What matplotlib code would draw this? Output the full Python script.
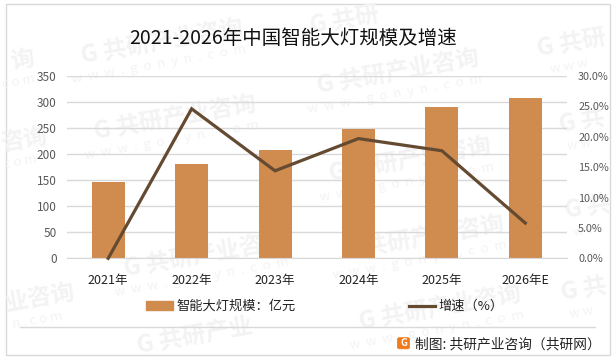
import matplotlib
matplotlib.use("Agg")
import matplotlib.pyplot as plt
from matplotlib.patches import Rectangle, FancyBboxPatch
from matplotlib.lines import Line2D

plt.rcParams['font.family'] = ['Noto Sans CJK SC', 'DejaVu Sans']

years = ['2021年', '2022年', '2023年', '2024年', '2025年', '2026年E']
market_size = [146.5, 181, 208, 248, 290.5, 308]
growth = [0.0, 24.6, 14.4, 19.7, 17.7, 5.8]
left_ticks = [0, 50, 100, 150, 200, 250, 300, 350]
right_ticks = [0, 5, 10, 15, 20, 25, 30]
title = '2021-2026年中国智能大灯规模及增速'
bar_label = '智能大灯规模：亿元'
line_label = '增速（%）'
source = '制图: 共研产业咨询（共研网）'
wm_full = 'G 共研产业咨询'
wm_url = 'w  w  w  .  g  o  n  y  n  .  c  o  m'
wm_marks = [
    (162, 42, wm_full, wm_url), (175, 118, wm_full, wm_url), (205, 255, wm_full, wm_url),
    (398, 72, wm_full, wm_url), (410, 160, wm_full, wm_url), (423, 238, wm_full, wm_url),
    (440, 308, wm_full, wm_url), (195, 336, 'G 共研产业', ''),
    (345, 21, 'G 共研', ''), (572, 44, 'G 共研', 'w w w'), (582, 122, 'G 共', 'w w'),
    (588, 208, 'G 共', 'w w'), (584, 290, 'G 共', 'w w'),
    (22, 60, '询', 'c o m'), (24, 140, '咨询', 'c o m'), (40, 298, '业咨询', 'n . c o m'),
]

W, H = 616, 361
fig = plt.figure(figsize=(W / 100, H / 100), dpi=100, facecolor='white')
def fx(x): return x / W
def fy(y): return 1 - y / H

# frame
fig.add_artist(Rectangle((fx(5.5), fy(355)), fx(604.5), 351.5 / H, transform=fig.transFigure,
                         fill=False, ec='#d9d9d9', lw=1.0, zorder=-3))

# watermarks
for cx, cy, main, url in wm_marks:
    fig.text(fx(cx), fy(cy), main, fontsize=17, fontweight='bold', color='#f3f3f3',
             rotation=10, ha='center', va='center', rotation_mode='anchor', zorder=-2)
    if url:
        fig.text(fx(cx - 3), fy(cy + 22), url, fontsize=9.5, color='#f3f3f3',
                 rotation=10, ha='center', va='center', rotation_mode='anchor', zorder=-2)

ax = fig.add_axes([fx(66.5), fy(258.3), (567 - 66.5) / W, (258.3 - 76) / H])
ax.patch.set_alpha(0)
x = list(range(len(years)))
bars = ax.bar(x, market_size, width=0.395, color='#d08b4e', zorder=2)
ax.set_xlim(-0.5, 5.5)
ax.set_ylim(0, 350)
ax.set_yticks(left_ticks)
ax.set_xticks(x)
ax.set_xticklabels(years, fontsize=9, color='#222222')
ax.tick_params(axis='x', length=0, pad=11)
ax.tick_params(axis='y', length=0, pad=7, labelsize=8.5, labelcolor='#595959')
ax.grid(axis='y', color='#d9d9d9', lw=1.0, zorder=0)
for s in ['top', 'left', 'right']:
    ax.spines[s].set_visible(False)
ax.spines['bottom'].set_color('#d9d9d9')

ax2 = ax.twinx()
ax2.patch.set_alpha(0)
line, = ax2.plot(x, growth, color='#654a32', lw=2.3, zorder=3, clip_on=False, solid_joinstyle='miter')
ax2.set_ylim(0, 30)
ax2.set_yticks(right_ticks)
ax2.set_yticklabels([f'{v:.1f}%' for v in right_ticks])
ax2.tick_params(axis='y', length=0, pad=8, labelsize=7.8, labelcolor='#595959')
for s in ax2.spines.values():
    s.set_visible(False)

fig.text(fx(293.5), fy(38), title, fontsize=14, color='#111111', ha='center', va='center')

# legend
handles = [Rectangle((0, 0), 1, 1, color='#d08b4e'),
           Line2D([0], [0], color='#654a32', lw=2.3)]
fig.legend(handles, [bar_label, line_label], ncol=2, frameon=False, fontsize=9.5,
           loc='center', bbox_to_anchor=(fx(325), fy(306.5)), handlelength=2.0, handleheight=0.6,
           handletextpad=0.25, columnspacing=8.6, labelcolor='#222222')

# footer
fig.add_artist(Line2D([fx(20), fx(595)], [fy(327), fy(327)], color='#d9d9d9', lw=1.0))
fig.add_artist(FancyBboxPatch((fx(398), fy(348.5)), fx(11), 10.5 / H, transform=fig.transFigure,
                              boxstyle='round,pad=0.001,rounding_size=0.004', fc='#f07a1c', ec='#f07a1c', lw=0.5))
fig.text(fx(403.5), fy(343), 'G', fontsize=7, fontweight='bold', color='white', ha='center', va='center')
fig.text(fx(415), fy(344), source, fontsize=9.9, color='#222222', ha='left', va='center')

fig.savefig('out.png', dpi=100)
